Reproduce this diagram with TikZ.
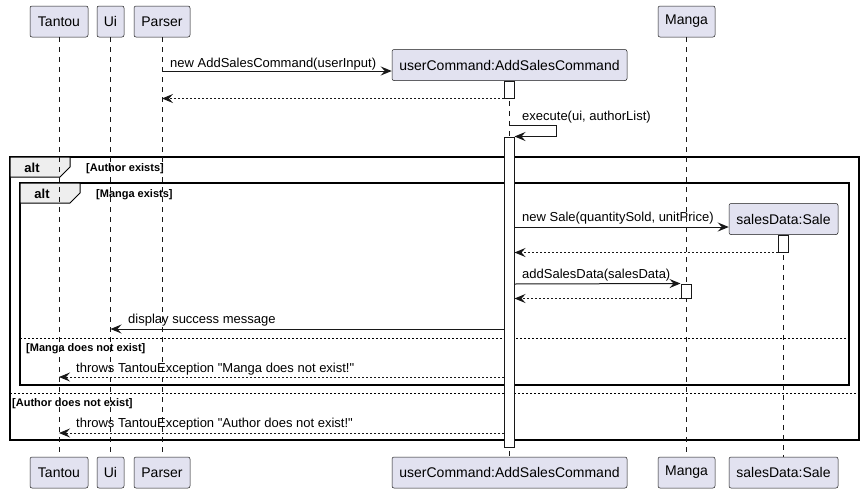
\documentclass[tikz,border=0pt]{standalone}
\usepackage{fontspec}
\setmainfont{Liberation Sans}[Ligatures=TeXOff]
\usetikzlibrary{arrows.meta}
\definecolor{pfill}{HTML}{E2E2F0}
\definecolor{pline}{HTML}{181818}
\definecolor{tabfill}{HTML}{EEEEEE}
\begin{document}
\begin{tikzpicture}[x=1pt,y=-1pt,
 part/.style={draw=pline,fill=pfill,rounded corners=2pt,minimum height=31pt,inner sep=0pt,font=\fontsize{14}{16}\selectfont,line width=0.5pt},
 life/.style={draw=pline,line width=0.5pt,dash pattern=on 5pt off 5pt},
 act/.style={draw=pline,fill=white,line width=1pt,minimum width=10pt,inner sep=0pt},
 msg/.style={draw=pline,line width=1pt,-{Stealth[length=11pt,width=9pt,inset=4pt]}},
 ret/.style={msg,dash pattern=on 2pt off 2pt},
 lbl/.style={font=\fontsize{13}{15}\selectfont,anchor=base west,inner sep=0pt},
 glbl/.style={font=\bfseries\fontsize{11}{13}\selectfont,anchor=base west,inner sep=0pt},
 altlbl/.style={font=\bfseries\fontsize{13}{15}\selectfont,anchor=base,inner sep=0pt},
 frame/.style={draw=black,line width=1.5pt},
 tab/.style={draw=black,fill=tabfill,line width=1pt},
 sep/.style={draw=black,line width=0.8pt,dash pattern=on 2pt off 2pt},
]
\useasboundingbox[fill=white] (0,0) rectangle (864,493);
% participants
\node[part,minimum width=58pt] (tT) at (59,21.5) {Tantou};
\node[part,minimum width=27pt] (tU) at (110.5,21.5) {Ui};
\node[part,minimum width=56pt] (tP) at (162,21.5) {Parser};
\node[part,minimum width=235pt] (tC) at (509.5,65) {userCommand:AddSalesCommand};
\node[part,minimum width=57pt] (tM) at (686.5,21.5) {Manga};
\node[part,minimum width=109pt] (tS) at (783.5,219) {salesData:Sale};
\node[part,minimum width=58pt] (bT) at (59,472.5) {Tantou};
\node[part,minimum width=27pt] (bU) at (110.5,472.5) {Ui};
\node[part,minimum width=56pt] (bP) at (162,472.5) {Parser};
\node[part,minimum width=235pt] (bC) at (509.5,472.5) {userCommand:AddSalesCommand};
\node[part,minimum width=57pt] (bM) at (686.5,472.5) {Manga};
\node[part,minimum width=109pt] (bS) at (783.5,472.5) {salesData:Sale};
% frames
\draw[frame] (10,157) rectangle (859,440);
\draw[frame] (20,183) rectangle (849,385);
\draw[tab] (10,157) -- (70,157) -- (70,167) -- (60,177) -- (10,177) -- cycle;
\draw[tab] (20,183) -- (80,183) -- (80,193) -- (70,203) -- (20,203) -- cycle;
\node[altlbl] (alt1) at (32,172) {alt};
\node[altlbl] (alt2) at (42,198) {alt};
\node[glbl] (g1) at (86,171) {[Author exists]};
\node[glbl] (g2) at (96,197) {[Manga exists]};
\draw[sep] (20,338) -- (849,338);
\node[glbl] (g3) at (26,351) {[Manga does not exist]};
\draw[sep] (10,393) -- (859,393);
\node[glbl] (g4) at (12,406) {[Author does not exist]};
% lifelines
\draw[life] (tT) -- (bT);
\draw[life] (tU) -- (bU);
\draw[life] (tP) -- (bP);
\draw[life] (tC) -- (bC);
\draw[life] (tM) -- (bM);
\draw[life] (tS) -- (bS);
% activations
\node[act,minimum height=17pt] (a1) at (509,89.5) {};
\node[act,minimum height=310pt] (a2) at (509,292) {};
\node[act,minimum height=17pt] (aS) at (783,243.5) {};
\node[act,minimum height=14pt] (aM) at (686,291) {};
% messages
\coordinate (m1) at (162,71);
\draw[msg] (m1) -- (tC.west |- m1);
\node[lbl] (l1) at (170,67) {new AddSalesCommand(userInput)};
\draw[ret] (a1.south west) -- (a1.south west -| tP);
\coordinate (s1) at (509,125);
\coordinate (s2) at (556,125);
\draw[msg] (s1) -- (s2) -- (s2 |- a2.north) -- (a2.north east);
\node[lbl] (l2) at (522,120) {execute(ui, authorList)};
\coordinate (m4) at (514,227);
\draw[msg] (m4) -- (tS.west |- m4);
\node[lbl] (l4) at (522,221) {new Sale(quantitySold, unitPrice)};
\draw[ret] (aS.south west) -- (aS.south west -| a2.east);
\coordinate (m6) at (514,284);
\draw[msg] (m6) -- (aM.north west);
\node[lbl] (l6) at (522,278) {addSalesData(salesData)};
\draw[ret] (aM.south west) -- (aM.south west -| a2.east);
\coordinate (m8) at (504,329);
\draw[msg] (m8) -- (m8 -| tU);
\node[lbl] (l8) at (128,323) {display success message};
\coordinate (m10) at (504,377);
\draw[ret] (m10) -- (m10 -| tT);
\node[lbl] (l10) at (76,372) {throws TantouException "Manga does not exist!"};
\coordinate (m12) at (504,433);
\draw[ret] (m12) -- (m12 -| tT);
\node[lbl] (l12) at (76,427) {throws TantouException "Author does not exist!"};
\end{tikzpicture}
\end{document}
